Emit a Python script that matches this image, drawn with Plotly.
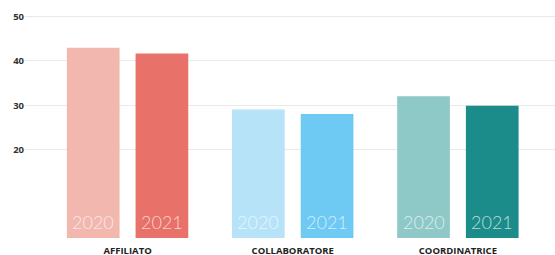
import plotly.graph_objects as go

categories = ["AFFILIATO", "COLLABORATORE", "COORDINATRICE"]
years = ["2020", "2021"]
values_2020 = [43, 29, 32]
values_2021 = [41.7, 28, 29.9]
colors_2020 = ["#f2b8b0", "#b6e3f8", "#8ec9c8"]
colors_2021 = ["#e8716a", "#6ec9f3", "#1b8c8a"]
y_ticks = [20, 30, 40, 50]

BARGAP = 0.168
BARGROUPGAP = 0.233

fig = go.Figure()
for year, vals, cols in [(years[0], values_2020, colors_2020), (years[1], values_2021, colors_2021)]:
    fig.add_trace(go.Bar(
        x=categories, y=vals, name=year,
        marker=dict(color=cols, line=dict(width=0)),
        hoverinfo="skip",
    ))

# year labels inside bars, near the base
slot = (1 - BARGAP) / 2
for i, cat in enumerate(categories):
    for j, year in enumerate(years):
        fig.add_annotation(
            x=i + (j - 0.5) * slot, y=0, xref="x", yref="y",
            text=year, showarrow=False, yanchor="bottom", yshift=3,
            font=dict(family="Lato", size=18, color="rgba(255,255,255,0.7)", weight=300),
        )

fig.update_layout(
    width=555, height=255,
    margin=dict(l=25, r=0, t=10, b=17),
    barmode="group", bargap=BARGAP, bargroupgap=BARGROUPGAP,
    plot_bgcolor="white", paper_bgcolor="white",
    showlegend=False,
    xaxis=dict(range=[-0.621, 2.588], showgrid=False, zeroline=False, showline=False,
               ticks="", ticklabelstandoff=5, automargin=False,
               tickfont=dict(family="Open Sans", size=9.5, color="#222", weight=700)),
    yaxis=dict(range=[0, 51.5], tickvals=y_ticks, showgrid=True, gridcolor="#e9e9e9", gridwidth=1,
               zeroline=False, showline=False, ticks="", automargin=False,
               tickfont=dict(family="Open Sans", size=9.5, color="#333", weight=700)),
)

fig.write_html("out.html", config={"displayModeBar": False},
               post_script="document.body.style.margin='0';")
